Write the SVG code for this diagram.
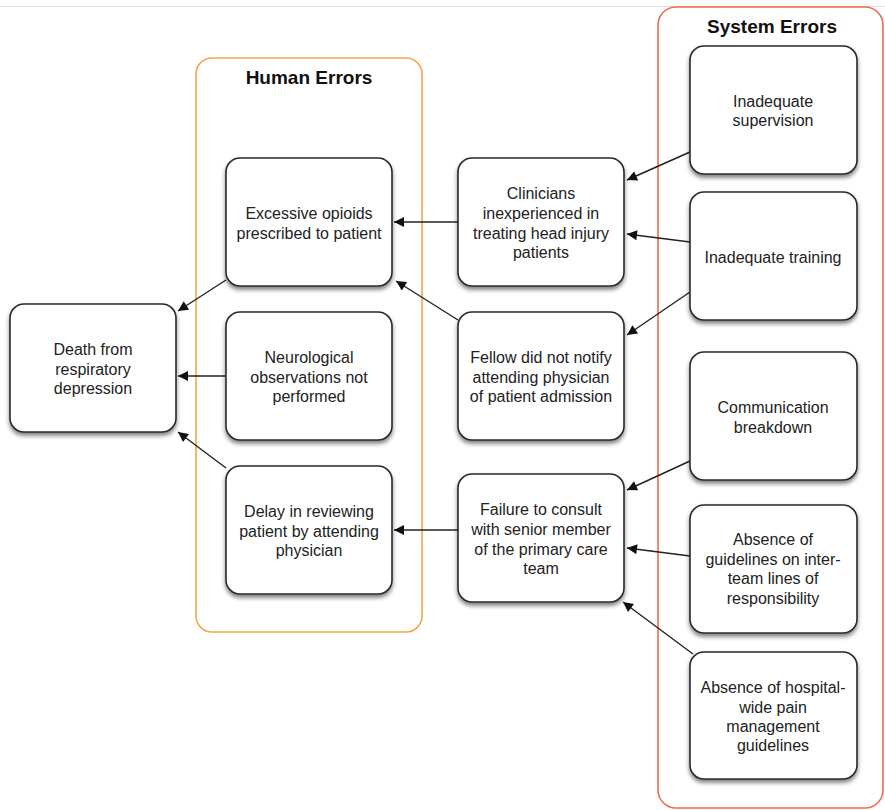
<svg xmlns="http://www.w3.org/2000/svg" width="885" height="810" viewBox="0 0 885 810">
<style>
.n{fill:#fff;stroke:#2a2a2a;stroke-width:1.6;filter:url(#sh)}
.t{font-family:"Liberation Sans",Arial,sans-serif;font-size:16px;fill:#222;text-anchor:middle}
.h{font-family:"Liberation Sans",Arial,sans-serif;font-size:19px;font-weight:bold;fill:#111;text-anchor:middle}
.c{stroke:#222;stroke-width:1.4;fill:none;marker-end:url(#ah)}
</style>
<defs>
<filter id="sh" x="-10%" y="-10%" width="120%" height="125%">
<feDropShadow dx="0" dy="3" stdDeviation="2" flood-color="#000" flood-opacity="0.5"/>
</filter>
<marker id="ah" viewBox="0 0 10 10" refX="10" refY="5" markerWidth="13" markerHeight="10" markerUnits="userSpaceOnUse" orient="auto">
<path d="M0,0 L10,5 L0,10 Z" fill="#111"/>
</marker>
</defs>
<rect width="885" height="810" fill="#fff"/>
<line x1="0" y1="6.5" x2="885" y2="6.5" stroke="#e2e2e2" stroke-width="1"/>
<g id="human-errors">
<rect x="196" y="58" width="226" height="574" rx="16" fill="none" stroke="#f2a64a" stroke-width="1.6"/>
<text class="h" x="309" y="84">Human Errors</text>
</g>
<g id="system-errors">
<rect x="658" y="7" width="225" height="801" rx="18" fill="none" stroke="#f06a4c" stroke-width="1.6"/>
<text class="h" x="772" y="33">System Errors</text>
</g>
<g id="connectors">
<line class="c" x1="458" y1="222" x2="394" y2="222"/>
<line class="c" x1="690" y1="152" x2="627" y2="180"/>
<line class="c" x1="690" y1="242" x2="627" y2="234"/>
<line class="c" x1="690" y1="292" x2="627" y2="335"/>
<line class="c" x1="458" y1="320" x2="396" y2="281"/>
<line class="c" x1="226" y1="280" x2="178" y2="311"/>
<line class="c" x1="226" y1="376" x2="178" y2="376"/>
<line class="c" x1="226" y1="468" x2="178" y2="432"/>
<line class="c" x1="458" y1="530" x2="394" y2="530"/>
<line class="c" x1="690" y1="461" x2="627" y2="490"/>
<line class="c" x1="690" y1="556" x2="627" y2="548"/>
<line class="c" x1="693" y1="654" x2="623" y2="602"/>
</g>
<g id="death">
<rect class="n" x="10" y="304" width="166" height="128" rx="14"/>
<text class="t" x="93" y="355">Death from</text>
<text class="t" x="93" y="374.5">respiratory</text>
<text class="t" x="93" y="394">depression</text>
</g>
<g id="excessive-opioids">
<rect class="n" x="226" y="158" width="166" height="128" rx="14"/>
<text class="t" x="309" y="219">Excessive opioids</text>
<text class="t" x="309" y="238.5">prescribed to patient</text>
</g>
<g id="neurological">
<rect class="n" x="226" y="312" width="166" height="128" rx="14"/>
<text class="t" x="309" y="363">Neurological</text>
<text class="t" x="309" y="382.5">observations not</text>
<text class="t" x="309" y="402">performed</text>
</g>
<g id="delay">
<rect class="n" x="226" y="466" width="166" height="128" rx="14"/>
<text class="t" x="309" y="517">Delay in reviewing</text>
<text class="t" x="309" y="536.5">patient by attending</text>
<text class="t" x="309" y="556">physician</text>
</g>
<g id="clinicians">
<rect class="n" x="458" y="158" width="166" height="128" rx="14"/>
<text class="t" x="541" y="199">Clinicians</text>
<text class="t" x="541" y="219">inexperienced in</text>
<text class="t" x="541" y="239">treating head injury</text>
<text class="t" x="541" y="258">patients</text>
</g>
<g id="fellow">
<rect class="n" x="458" y="312" width="166" height="128" rx="14"/>
<text class="t" x="541" y="363">Fellow did not notify</text>
<text class="t" x="541" y="382.5">attending physician</text>
<text class="t" x="541" y="402">of patient admission</text>
</g>
<g id="failure">
<rect class="n" x="458" y="474" width="166" height="128" rx="14"/>
<text class="t" x="541" y="515">Failure to consult</text>
<text class="t" x="541" y="535">with senior member</text>
<text class="t" x="541" y="555">of the primary care</text>
<text class="t" x="541" y="574">team</text>
</g>
<g id="inadequate-supervision">
<rect class="n" x="690" y="46" width="167" height="128" rx="14"/>
<text class="t" x="773" y="107">Inadequate</text>
<text class="t" x="773" y="126">supervision</text>
</g>
<g id="inadequate-training">
<rect class="n" x="690" y="192" width="167" height="128" rx="14"/>
<text class="t" x="773" y="262.5">Inadequate training</text>
</g>
<g id="communication">
<rect class="n" x="690" y="352" width="167" height="128" rx="14"/>
<text class="t" x="773" y="413">Communication</text>
<text class="t" x="773" y="433">breakdown</text>
</g>
<g id="absence-guidelines">
<rect class="n" x="690" y="505" width="167" height="128" rx="14"/>
<text class="t" x="773" y="545">Absence of</text>
<text class="t" x="773" y="564.5">guidelines on inter-</text>
<text class="t" x="773" y="584">team lines of</text>
<text class="t" x="773" y="603.5">responsibility</text>
</g>
<g id="absence-pain">
<rect class="n" x="690" y="652" width="167" height="127" rx="14"/>
<text class="t" x="773" y="693">Absence of hospital-</text>
<text class="t" x="773" y="712.5">wide pain</text>
<text class="t" x="773" y="732">management</text>
<text class="t" x="773" y="751">guidelines</text>
</g>
</svg>
